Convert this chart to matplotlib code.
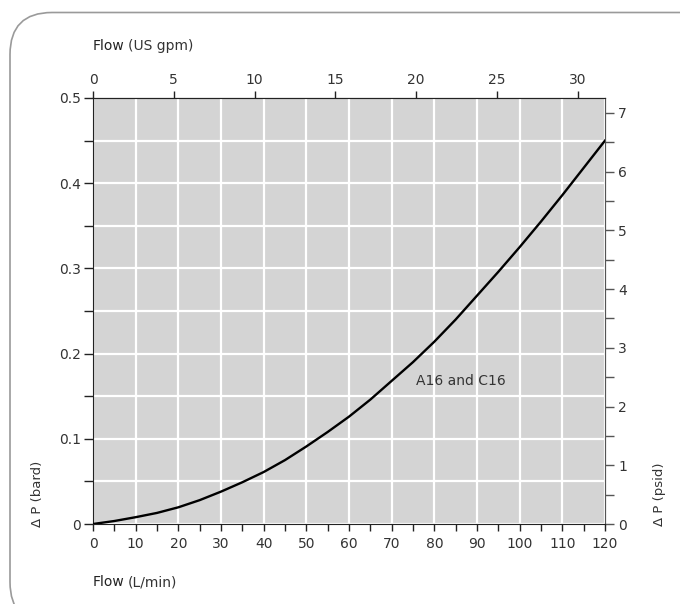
import matplotlib.pyplot as plt
from matplotlib.patches import FancyBboxPatch
from matplotlib.ticker import MultipleLocator
import numpy as np

# values
flow_lpm = [0, 5, 10, 15, 20, 25, 30, 35, 40, 45, 50, 55, 60,
            65, 70, 75, 80, 85, 90, 95, 100, 105, 110, 115, 120]
dp_bar = [0, 0.0035, 0.008, 0.013, 0.0196, 0.028, 0.038, 0.049, 0.061, 0.075, 0.091, 0.108, 0.126,
          0.146, 0.168, 0.190, 0.214, 0.240, 0.268, 0.296, 0.325, 0.355, 0.386, 0.418, 0.45]
curve_label = "A16 and C16"

LPM_PER_GPM = 3.78541
PSI_PER_BAR = 14.5038

txt = '#333333'
plt.rcParams['font.family'] = ['DejaVu Sans']

fig = plt.figure(figsize=(6.8, 6.04), dpi=100)
ax = fig.add_axes([93/680, 1 - 524/604, 512/680, 426/604])

# rounded card border (pixel coords)
card = FancyBboxPatch((10, -20), 740, 611.5, boxstyle="round,pad=0,rounding_size=42",
                      transform=None, facecolor='none', edgecolor='#9a9a9a', lw=1.2,
                      clip_on=False, zorder=0)
fig.patches.append(card)

ax.set_facecolor('#d4d4d4')
ax.plot(flow_lpm, dp_bar, color='black', lw=1.7, zorder=3, solid_joinstyle='round')
ax.set_xlim(0, 120)
ax.set_ylim(0, 0.5)

ax.xaxis.set_major_locator(MultipleLocator(10))
ax.xaxis.set_minor_locator(MultipleLocator(5))
ax.yaxis.set_major_locator(MultipleLocator(0.1))
ax.yaxis.set_minor_locator(MultipleLocator(0.05))
ax.yaxis.set_major_formatter(plt.FuncFormatter(lambda v, p: '0' if v == 0 else f'{v:.1f}'))
ax.grid(True, which='major', axis='x', color='white', lw=1.6)
ax.grid(True, which='both', axis='y', color='white', lw=1.6)
ax.set_axisbelow(True)

ax.tick_params(which='both', direction='out', length=5, width=1, color='#222222',
               labelcolor=txt, labelsize=10)
ax.tick_params(axis='x', which='both', pad=4)
ax.tick_params(axis='y', which='both', length=6.5, pad=2)

for s in ['left', 'bottom', 'top']:
    ax.spines[s].set_color('#222222')
ax.spines['right'].set_color('#555555')

# top axis in US gpm
top = ax.secondary_xaxis('top', functions=(lambda x: x / LPM_PER_GPM, lambda g: g * LPM_PER_GPM))
top.xaxis.set_major_locator(MultipleLocator(5))
top.tick_params(direction='out', length=5, width=1, color='#222222', labelcolor=txt,
                labelsize=10, pad=3)

# right axis in psid
right = ax.secondary_yaxis('right', functions=(lambda b: b * PSI_PER_BAR, lambda p: p / PSI_PER_BAR))
right.yaxis.set_major_locator(MultipleLocator(1))
right.yaxis.set_minor_locator(MultipleLocator(0.5))
right.tick_params(which='both', direction='out', length=6.5, width=1, color='#555555',
                  labelcolor=txt, labelsize=10, pad=3)
right.spines['right'].set_color('#555555')

ax.text(86.25, 0.168, curve_label, ha='center', va='center', fontsize=10, color=txt, zorder=4)

# axis titles
fig.canvas.draw()
rend = fig.canvas.get_renderer()


def two_part(x, y, bold, rest):
    t1 = fig.text(x, y, bold, fontsize=10, color='#222222', ha='left', va='center', fontweight='medium')
    bb = t1.get_window_extent(rend)
    fig.text(bb.x1 / fig.dpi / 6.8 + 0.005, y, rest, fontsize=10, color=txt, ha='left', va='center')


two_part(93/680, 1 - 46/604, 'Flow', '(US gpm)')
two_part(93/680, 1 - 582/604, 'Flow', '(L/min)')

fig.text(38/680, 1 - 527/604, 'Δ P (bard)', rotation=90, fontsize=9.5, color=txt,
         ha='center', va='bottom')
fig.text(660/680, 1 - 526/604, 'Δ P (psid)', rotation=90, fontsize=9.5, color=txt,
         ha='center', va='bottom')

fig.savefig('out.png', dpi=100)
